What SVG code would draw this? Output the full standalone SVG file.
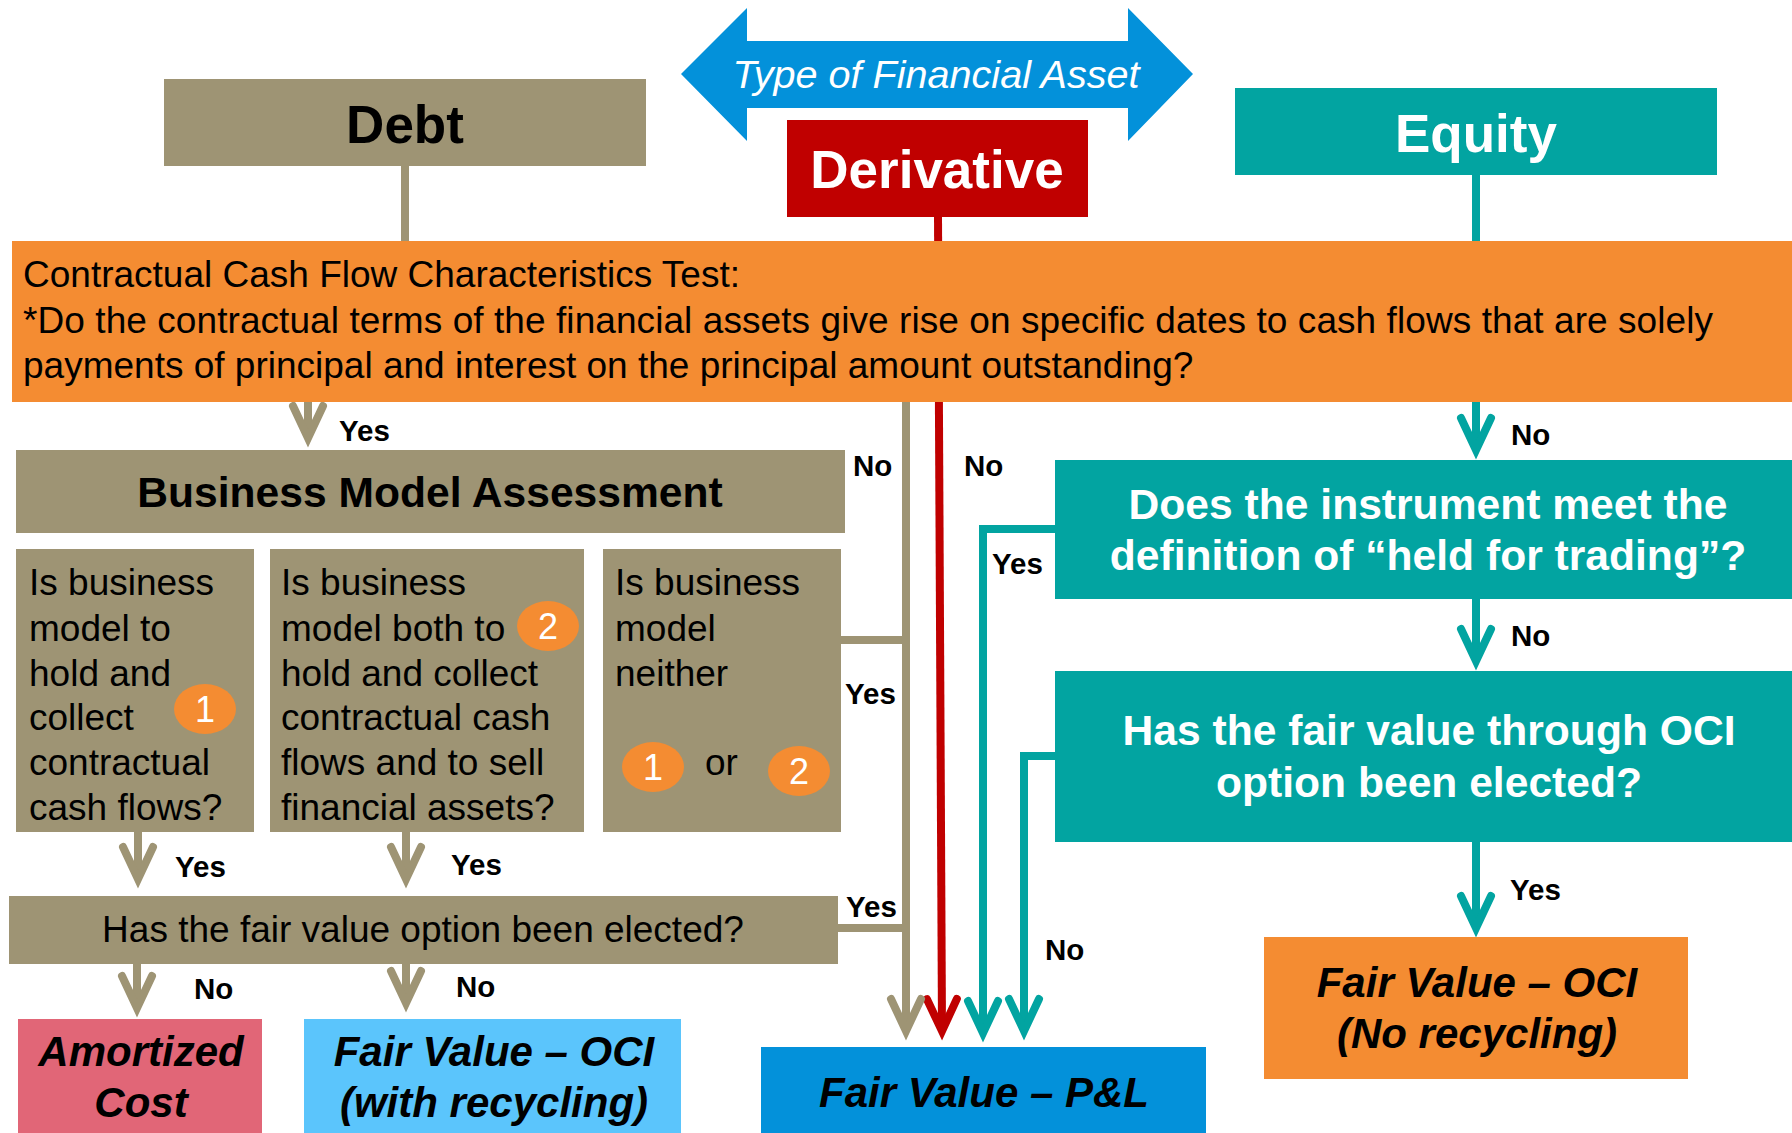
<svg xmlns="http://www.w3.org/2000/svg" width="1792" height="1133" viewBox="0 0 1792 1133">
<defs>
<style>
text{font-family:"Liberation Sans",Arial,sans-serif;}
.tan{fill:#9E9474;}
.teal{fill:#02A4A1;}
.lbl{font-size:29.5px;font-weight:bold;fill:#000;}
.hd{font-size:53px;font-weight:bold;text-anchor:middle;}
.q{font-size:37px;fill:#000;}
.tq{font-size:42.6px;font-weight:bold;fill:#fff;text-anchor:middle;}
.res{font-size:42px;font-weight:bold;font-style:italic;fill:#000;text-anchor:middle;}
.num{font-size:36px;fill:#fff;text-anchor:middle;}
.c{fill:none;stroke-width:8;}
.ct{stroke:#9E9474;}
.cr{stroke:#C00000;}
.cg{stroke:#02A4A1;}
</style>
<marker id="aTan" markerUnits="userSpaceOnUse" orient="auto" refX="0" refY="0" markerWidth="40" markerHeight="40" overflow="visible"><path d="M-31,-15 L1,0 L-31,15" fill="none" stroke="#9E9474" stroke-width="8" stroke-linecap="round" stroke-linejoin="miter"/></marker>
<marker id="aRed" markerUnits="userSpaceOnUse" orient="auto" refX="0" refY="0" markerWidth="40" markerHeight="40" overflow="visible"><path d="M-31,-15 L1,0 L-31,15" fill="none" stroke="#C00000" stroke-width="8" stroke-linecap="round" stroke-linejoin="miter"/></marker>
<marker id="aTeal" markerUnits="userSpaceOnUse" orient="auto" refX="0" refY="0" markerWidth="40" markerHeight="40" overflow="visible"><path d="M-31,-15 L1,0 L-31,15" fill="none" stroke="#02A4A1" stroke-width="8" stroke-linecap="round" stroke-linejoin="miter"/></marker>
</defs>
<rect width="1792" height="1133" fill="#fff"/>

<g id="connectors">
<path class="c ct" d="M405,166 V245"/>
<path class="c cr" d="M938,216 L942,1030" marker-end="url(#aRed)"/>
<path class="c cg" d="M1476,175 V245"/>
<path class="c ct" d="M308,400 V437" marker-end="url(#aTan)"/>
<path class="c ct" d="M906,400 V1030" marker-end="url(#aTan)"/>
<path class="c ct" d="M838,640 H906"/>
<path class="c ct" d="M835,928 H906"/>
<path class="c cg" d="M1058,529 H983 V1032" marker-end="url(#aTeal)"/>
<path class="c cg" d="M1058,756 H1024 V1030" marker-end="url(#aTeal)"/>
<path class="c cg" d="M1476,400 V449" marker-end="url(#aTeal)"/>
<path class="c cg" d="M1476,597 V660" marker-end="url(#aTeal)"/>
<path class="c cg" d="M1476,840 V927" marker-end="url(#aTeal)"/>
<path class="c ct" d="M138,830 V878" marker-end="url(#aTan)"/>
<path class="c ct" d="M406,830 V878" marker-end="url(#aTan)"/>
<path class="c ct" d="M137,962 V1007" marker-end="url(#aTan)"/>
<path class="c ct" d="M406,962 V1002" marker-end="url(#aTan)"/>
<text class="lbl" x="339" y="441">Yes</text>
<text class="lbl" x="853" y="476">No</text>
<text class="lbl" x="964" y="476">No</text>
<text class="lbl" x="1511" y="445">No</text>
<text class="lbl" x="992" y="574">Yes</text>
<text class="lbl" x="1511" y="646">No</text>
<text class="lbl" x="845" y="704">Yes</text>
<text class="lbl" x="175" y="877">Yes</text>
<text class="lbl" x="451" y="875">Yes</text>
<text class="lbl" x="846" y="917">Yes</text>
<text class="lbl" x="194" y="999">No</text>
<text class="lbl" x="456" y="997">No</text>
<text class="lbl" x="1045" y="960">No</text>
<text class="lbl" x="1510" y="900">Yes</text>
</g>

<g id="type-arrow">
<polygon points="681,74 747,8 747,41 1128,41 1128,8 1193,74 1128,141 1128,108 747,108 747,141" fill="#0391DA"/>
<text x="936" y="88" font-size="39.6" font-style="italic" fill="#fff" text-anchor="middle">Type of Financial Asset</text>
</g>

<g id="debt">
<rect class="tan" x="164" y="79" width="482" height="87"/>
<text class="hd" x="405" y="143" fill="#000">Debt</text>
</g>

<g id="derivative">
<rect x="787" y="120" width="301" height="97" fill="#C00000"/>
<text class="hd" x="937" y="188" fill="#fff">Derivative</text>
</g>

<g id="equity">
<rect class="teal" x="1235" y="88" width="482" height="87"/>
<text class="hd" x="1476" y="152" fill="#fff">Equity</text>
</g>

<g id="sppi-test">
<rect x="12" y="241" width="1780" height="161" fill="#F48C32"/>
<text class="q" x="23" y="287">Contractual Cash Flow Characteristics Test:</text>
<text class="q" x="23" y="333" textLength="1690">*Do the contractual terms of the financial assets give rise on specific dates to cash flows that are solely</text>
<text class="q" x="23" y="378">payments of principal and interest on the principal amount outstanding?</text>
</g>

<g id="business-model">
<rect class="tan" x="16" y="450" width="829" height="83"/>
<text x="430" y="507" font-size="42.6" font-weight="bold" text-anchor="middle">Business Model Assessment</text>
</g>

<g id="bm-hold">
<rect class="tan" x="16" y="549" width="238" height="283"/>
<text class="q" x="29" y="595">Is business</text>
<text class="q" x="29" y="641">model to</text>
<text class="q" x="29" y="686">hold and</text>
<text class="q" x="29" y="730">collect</text>
<text class="q" x="29" y="775">contractual</text>
<text class="q" x="29" y="820">cash flows?</text>
<ellipse cx="205" cy="709" rx="31" ry="25" fill="#F48C32"/>
<text class="num" x="205" y="722">1</text>
</g>

<g id="bm-both">
<rect class="tan" x="270" y="549" width="314" height="283"/>
<text class="q" x="281" y="595">Is business</text>
<text class="q" x="281" y="641">model both to</text>
<text class="q" x="281" y="686">hold and collect</text>
<text class="q" x="281" y="730">contractual cash</text>
<text class="q" x="281" y="775">flows and to sell</text>
<text class="q" x="281" y="820">financial assets?</text>
<ellipse cx="548" cy="626" rx="31" ry="25" fill="#F48C32"/>
<text class="num" x="548" y="639">2</text>
</g>

<g id="bm-neither">
<rect class="tan" x="603" y="549" width="238" height="283"/>
<text class="q" x="615" y="595">Is business</text>
<text class="q" x="615" y="641">model</text>
<text class="q" x="615" y="686">neither</text>
<ellipse cx="653" cy="767" rx="31" ry="25" fill="#F48C32"/>
<text class="num" x="653" y="780">1</text>
<text class="q" x="705" y="775">or</text>
<ellipse cx="799" cy="771" rx="31" ry="25" fill="#F48C32"/>
<text class="num" x="799" y="784">2</text>
</g>

<g id="fvo">
<rect class="tan" x="9" y="896" width="829" height="68"/>
<text class="q" x="423" y="942" text-anchor="middle">Has the fair value option been elected?</text>
</g>

<g id="amortized-cost">
<rect x="18" y="1019" width="244" height="114" fill="#E16677"/>
<text class="res" x="141" y="1066">Amortized</text>
<text class="res" x="141" y="1117">Cost</text>
</g>

<g id="fv-oci-recycling">
<rect x="304" y="1019" width="377" height="114" fill="#5BC5FC"/>
<text class="res" x="494" y="1066">Fair Value – OCI</text>
<text class="res" x="494" y="1117">(with recycling)</text>
</g>

<g id="fv-pl">
<rect x="761" y="1047" width="445" height="86" fill="#0391DA"/>
<text class="res" x="984" y="1107">Fair Value – P&amp;L</text>
</g>

<g id="held-for-trading">
<rect class="teal" x="1055" y="460" width="737" height="139"/>
<text class="tq" x="1428" y="519">Does the instrument meet the</text>
<text class="tq" x="1428" y="570">definition of “held for trading”?</text>
</g>

<g id="fv-oci-option">
<rect class="teal" x="1055" y="671" width="737" height="171"/>
<text class="tq" x="1429" y="745">Has the fair value through OCI</text>
<text class="tq" x="1429" y="797">option been elected?</text>
</g>

<g id="fv-oci-no-recycling">
<rect x="1264" y="937" width="424" height="142" fill="#F48C32"/>
<text class="res" x="1477" y="997">Fair Value – OCI</text>
<text class="res" x="1477" y="1048">(No recycling)</text>
</g>
</svg>
